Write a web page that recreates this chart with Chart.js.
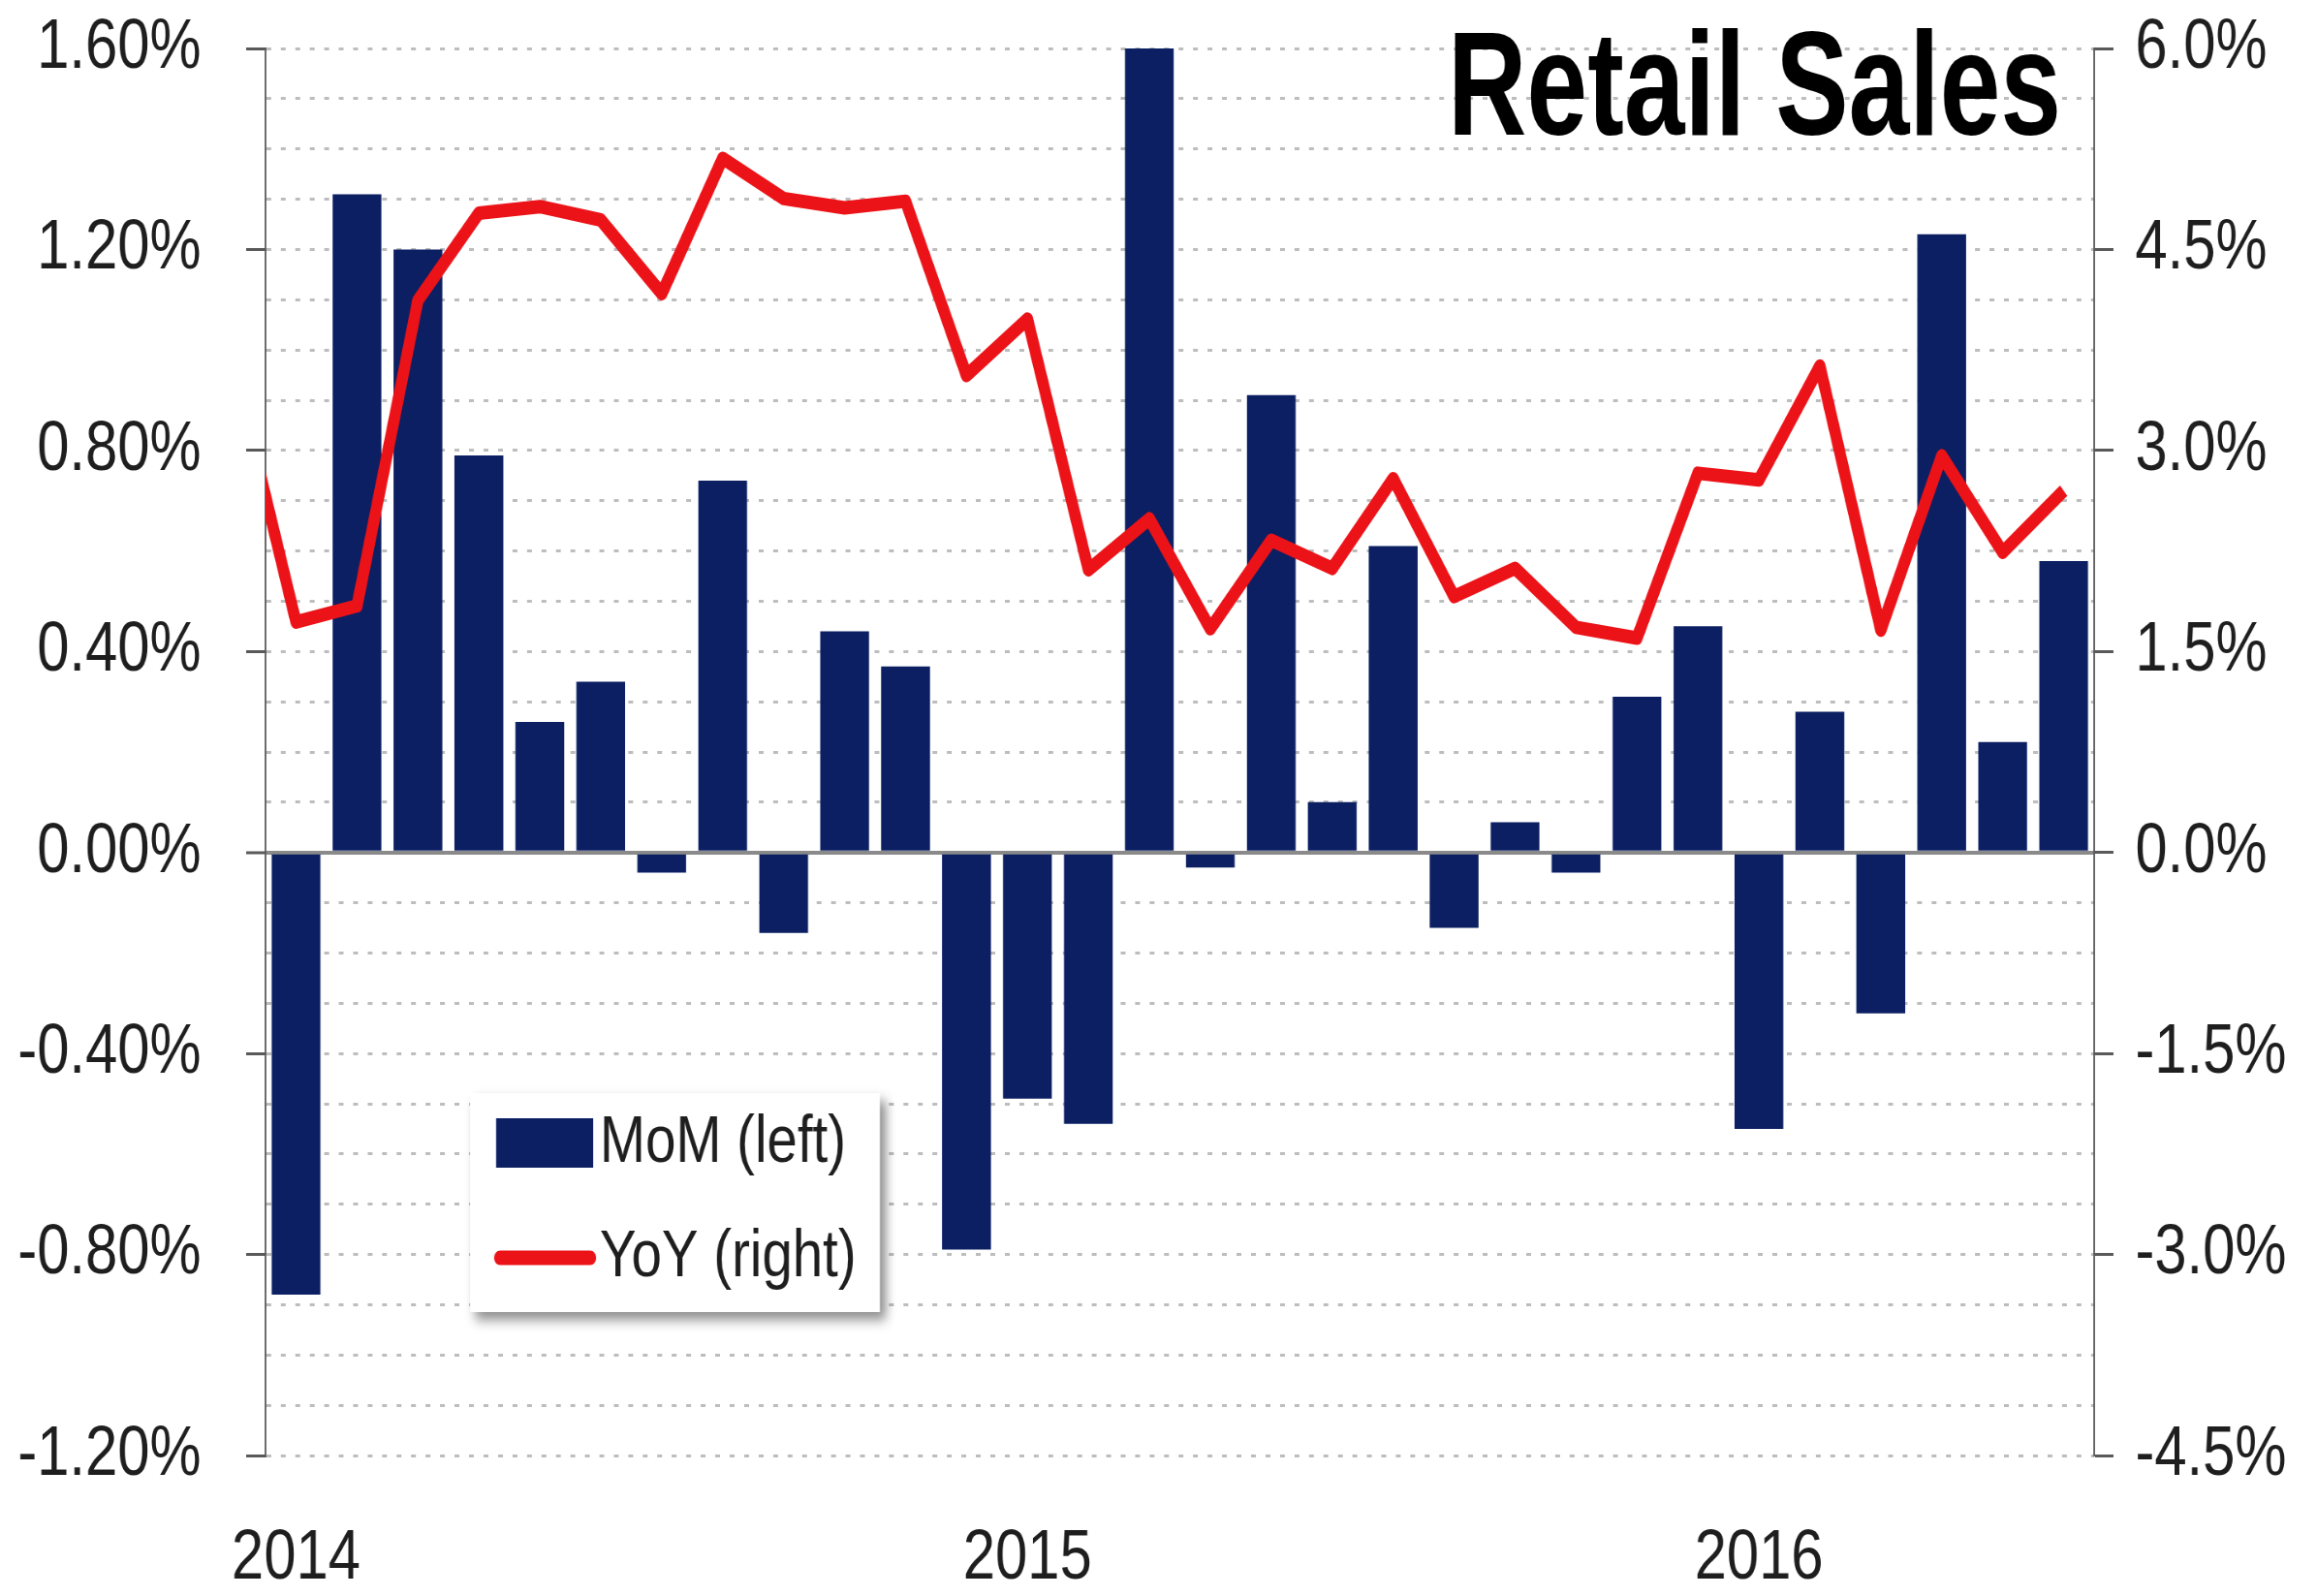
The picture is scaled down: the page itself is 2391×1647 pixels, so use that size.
<!DOCTYPE html>
<html>
<head>
<meta charset="utf-8">
<title>Retail Sales</title>
<script src="https://cdn.jsdelivr.net/npm/chart.js@4.4.0/dist/chart.umd.min.js"></script>
<style>
  html, body { margin: 0; padding: 0; background: #fff; overflow: hidden; }
</style>
</head>
<body>
<!-- the original is a squeezed picture: draw 2880 wide, show at 2391px -->
<canvas id="retailChart" width="2880" height="1647" style="width:2391px;height:1647px;display:block"></canvas>
<script>
// Dec 2013 sits half a slot left of the axis, only its line segment shows
const months = [
  'Dec 2013',
  'Jan 2014', 'Feb 2014', 'Mar 2014', 'Apr 2014', 'May 2014', 'Jun 2014',
  'Jul 2014', 'Aug 2014', 'Sep 2014', 'Oct 2014', 'Nov 2014', 'Dec 2014',
  'Jan 2015', 'Feb 2015', 'Mar 2015', 'Apr 2015', 'May 2015', 'Jun 2015',
  'Jul 2015', 'Aug 2015', 'Sep 2015', 'Oct 2015', 'Nov 2015', 'Dec 2015',
  'Jan 2016', 'Feb 2016', 'Mar 2016', 'Apr 2016', 'May 2016', 'Jun 2016'
];

// MoM % change (left axis)
const momLeft = [
  null,
  -0.88, 1.31, 1.20, 0.79, 0.26, 0.34, -0.04, 0.74, -0.16, 0.44, 0.37, -0.79,
  -0.49, -0.54, 1.60, -0.03, 0.91, 0.10, 0.61, -0.15, 0.06, -0.04, 0.31, 0.45,
  -0.55, 0.28, -0.32, 1.23, 0.22, 0.58
];

// YoY % change (right axis)
const yoyRight = [
  3.60,
  1.72, 1.84, 4.12, 4.77, 4.82, 4.72, 4.17, 5.18, 4.88, 4.81, 4.86, 3.56,
  3.98, 2.11, 2.49, 1.67, 2.33, 2.12, 2.79, 1.91, 2.12, 1.68, 1.60, 2.83,
  2.78, 3.63, 1.66, 2.96, 2.24, 2.70
];

const leftTicks = [-1.2, -0.8, -0.4, 0, 0.4, 0.8, 1.2, 1.6];
const rightTicks = [-4.5, -3.0, -1.5, 0, 1.5, 3.0, 4.5, 6.0];
const yearTicks = ['Jan 2014', 'Jan 2015', 'Jan 2016'];

const K = 2391 / 2880;  // horizontal squeeze of the shown canvas
const FAMILY = '"Liberation Sans", Arial, sans-serif';
const TEXT = '#1e1e1e';
const NAVY = '#0b1f62';
const RED = '#ec1318';

function isMajor(v) {
  return leftTicks.some(t => Math.abs(t - v) < 1e-6);
}

function noPad(s) {
  s.paddingTop = 0;
  s.paddingBottom = 0;
  s.paddingLeft = 0;
  s.paddingRight = 0;
}

// title and legend drawn inside the plot area
const overlay = {
  id: 'overlay',
  afterDraw(chart) {
    const ctx = chart.ctx;
    const area = chart.chartArea;
    ctx.save();

    ctx.font = 'bold 152px ' + FAMILY;
    ctx.fillStyle = '#000';
    ctx.textAlign = 'left';
    ctx.textBaseline = 'alphabetic';
    ctx.fillText('Retail Sales', area.right - 667 / K, area.top + 89, 633 / K);

    const bx = area.left + 211 / K;
    const by = area.top + 1078;
    const bw = 423 / K;
    const bh = 226;
    ctx.shadowColor = 'rgba(0,0,0,0.45)';
    ctx.shadowBlur = 12;
    ctx.shadowOffsetX = 7;
    ctx.shadowOffsetY = 8;
    ctx.fillStyle = '#fff';
    ctx.fillRect(bx, by, bw, bh);
    ctx.shadowColor = 'transparent';

    const ds = chart.data.datasets;
    const bars = ds.find(d => d.type === 'bar');
    const line = ds.find(d => d.type === 'line');

    ctx.fillStyle = bars.backgroundColor;
    ctx.fillRect(bx + 27 / K, by + 26, 100 / K, 51);

    ctx.strokeStyle = line.borderColor;
    ctx.lineWidth = 15;
    ctx.lineCap = 'round';
    ctx.beginPath();
    ctx.moveTo(bx + 31 / K, by + 170);
    ctx.lineTo(bx + 124 / K, by + 170);
    ctx.stroke();

    ctx.font = '68px ' + FAMILY;
    ctx.fillStyle = TEXT;
    ctx.textBaseline = 'middle';
    ctx.fillText(bars.label, bx + 134 / K, by + 52);
    ctx.fillText(line.label, bx + 134 / K, by + 170);
    ctx.restore();
  }
};

const ctx = document.getElementById('retailChart').getContext('2d');

const retailChart = new Chart(ctx, {
  type: 'bar',
  data: {
    labels: months,
    datasets: [
      {
        type: 'line',
        label: 'YoY (right)',
        data: yoyRight,
        yAxisID: 'y1',
        borderColor: RED,
        borderWidth: 14,
        borderJoinStyle: 'round',
        borderCapStyle: 'butt',
        pointRadius: 0,
        tension: 0,
        clip: 0,
        order: 1
      },
      {
        type: 'bar',
        label: 'MoM (left)',
        data: momLeft,
        yAxisID: 'y',
        backgroundColor: NAVY,
        categoryPercentage: 1,
        barPercentage: 0.8,
        order: 2
      }
    ]
  },
  options: {
    responsive: false,
    animation: false,
    devicePixelRatio: 1,
    layout: { padding: { top: 50, left: 0, right: 0, bottom: 0 } },
    plugins: {
      legend: { display: false },
      tooltip: { enabled: false }
    },
    scales: {
      x: {
        min: 1,
        max: 30,
        offset: true,
        grid: { display: false, drawTicks: false },
        border: { display: false },
        ticks: {
          autoSkip: false,
          maxRotation: 0,
          padding: 64,
          color: TEXT,
          font: { family: FAMILY, size: 72 },
          callback: function (v) {
            const lab = this.getLabelForValue(v);
            return yearTicks.includes(lab) ? lab.slice(4) : '';
          }
        },
        afterFit: s => { s.height = 145; noPad(s); }
      },
      y: {
        position: 'left',
        min: leftTicks[0],
        max: leftTicks[leftTicks.length - 1],
        ticks: {
          stepSize: 0.1,
          autoSkip: false,
          padding: 56,
          color: TEXT,
          font: { family: FAMILY, size: 72 },
          callback: v => (isMajor(v) ? v.toFixed(2) + '%' : '')
        },
        grid: {
          color: c => (c.tick && Math.abs(c.tick.value) < 1e-6 ? '#8a8a8a' : '#bdbdbd'),
          lineWidth: c => (c.tick && Math.abs(c.tick.value) < 1e-6 ? 4 : 3),
          tickLength: 24,
          tickWidth: 3,
          tickColor: c => (c.tick && isMajor(c.tick.value) ? '#595959' : 'rgba(0,0,0,0)')
        },
        border: {
          display: true,
          color: '#595959',
          width: 2,
          dash: c => (c.tick && Math.abs(c.tick.value) > 1e-6 ? [6, 12] : [])
        },
        afterFit: s => { s.width = 274 / K; noPad(s); }
      },
      y1: {
        position: 'right',
        min: rightTicks[0],
        max: rightTicks[rightTicks.length - 1],
        ticks: {
          stepSize: 1.5,
          autoSkip: false,
          padding: 27,
          color: TEXT,
          font: { family: FAMILY, size: 72 },
          callback: v => v.toFixed(1) + '%'
        },
        grid: {
          drawOnChartArea: false,
          tickLength: 24,
          tickWidth: 3,
          tickColor: '#595959'
        },
        border: { display: true, color: '#595959', width: 2 },
        afterFit: s => { s.width = 2880 - 2161 / K; noPad(s); }
      }
    }
  },
  plugins: [overlay]
});
</script>
</body>
</html>
